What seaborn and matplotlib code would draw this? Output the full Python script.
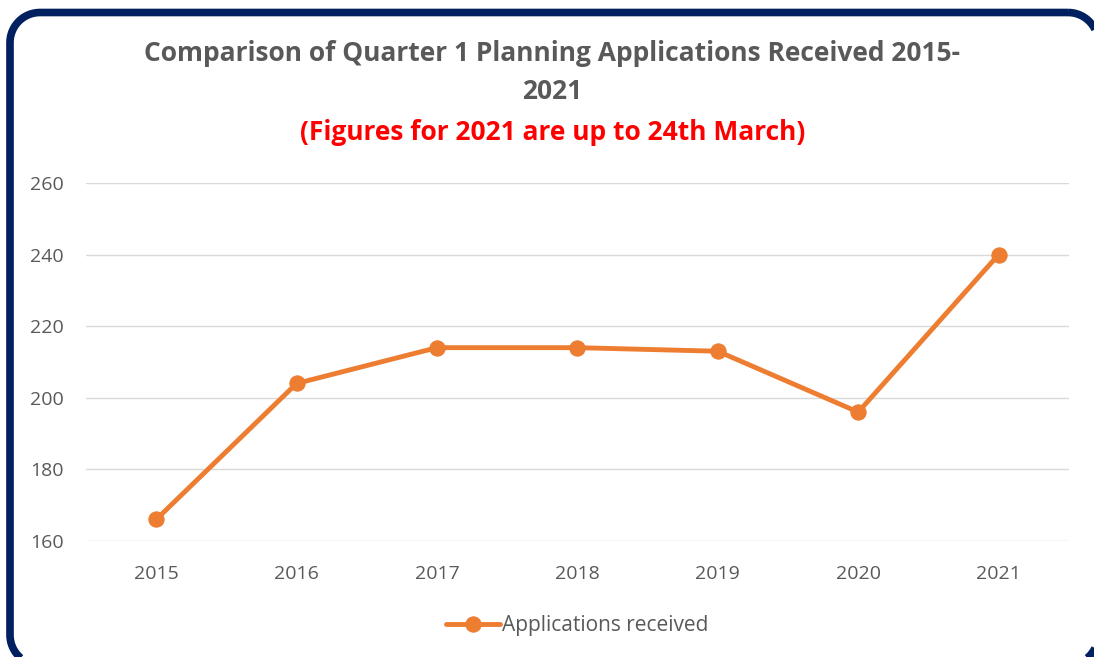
import matplotlib.pyplot as plt
import seaborn as sns
import numpy as np
import pandas as pd
from matplotlib.patches import Polygon

# === Data ===
years = ["2015", "2016", "2017", "2018", "2019", "2020", "2021"]
applications = [166, 204, 214, 214, 213, 196, 240]
y_ticks = [160, 180, 200, 220, 240, 260]

df = pd.DataFrame({"Year": years, "Applications received": applications})

# === Plot ===
sns.set_theme(style="white")
plt.rcParams["font.family"] = ["Open Sans", "DejaVu Sans"]

fig = plt.figure(figsize=(10.94, 6.57), dpi=100)
ax = fig.add_axes([0.0786, 0.1766, 0.8984, 0.5449])

sns.lineplot(data=df, x="Year", y="Applications received", ax=ax, color="#ED7D31",
             linewidth=3.5, marker="o", markersize=11, markeredgecolor="#ED7D31",
             label="Applications received", sort=False)

ax.set_xlim(-0.5, 6.5)
ax.set_ylim(160, 260)
ax.set_yticks(y_ticks)
ax.grid(axis="y", color="#D9D9D9", linewidth=1)
ax.set_axisbelow(True)
for s in ax.spines.values():
    s.set_visible(False)
ax.tick_params(axis="both", length=0, labelsize=14, labelcolor="#595959")
ax.tick_params(axis="x", pad=17)
ax.tick_params(axis="y", pad=16)
ax.set_xlabel("")
ax.set_ylabel("")

leg = ax.legend(loc="center", bbox_to_anchor=(0.5, -0.237), frameon=False,
                fontsize=15, handlelength=2.6, handletextpad=0.1)
for t in leg.get_texts():
    t.set_color("#595959")

fig.text(0.505, 0.919, "Comparison of Quarter 1 Planning Applications Received 2015-",
         ha="center", va="center", fontsize=19, fontweight="bold", color="#595959")
fig.text(0.505, 0.860, "2021", ha="center", va="center", fontsize=19,
         fontweight="bold", color="#595959")
fig.text(0.505, 0.799, "(Figures for 2021 are up to 24th March)", ha="center",
         va="center", fontsize=19, fontweight="bold", color="#FF0000")

# rounded navy border, drawn in pixel units on an overlay axes
bg = fig.add_axes([0, 0, 1, 1], zorder=-1)
bg.set_xlim(0, 1094)
bg.set_ylim(657, 0)
bg.axis("off")
x0, y0, x1, y1, r = 10, 12.5, 1098, 665, 30
pts = []
for cx, cy, a0 in [(x1 - r, y0 + r, -90), (x1 - r, y1 - r, 0),
                   (x0 + r, y1 - r, 90), (x0 + r, y0 + r, 180)]:
    t = np.radians(np.linspace(a0, a0 + 90, 20))
    pts += list(zip(cx + r * np.cos(t), cy + r * np.sin(t)))
bg.add_patch(Polygon(pts, closed=True, fill=False, edgecolor="#002060",
                     linewidth=5.5, clip_on=False))

fig.savefig("out.png", dpi=100)
plt.close()
